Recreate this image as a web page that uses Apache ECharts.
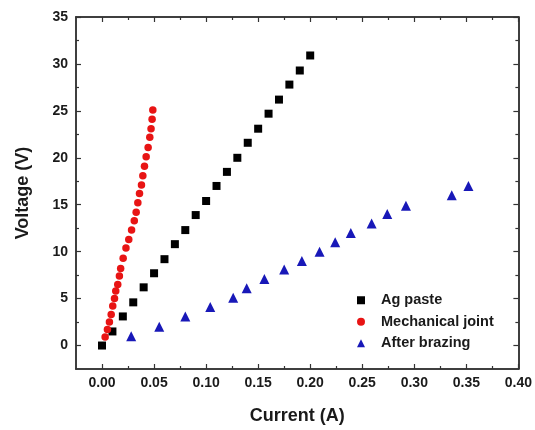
<!DOCTYPE html>
<html>
<head>
<meta charset="utf-8">
<script src="https://cdn.jsdelivr.net/npm/echarts@6/dist/echarts.min.js"></script>
<style>
html,body{margin:0;padding:0;background:#fff;}
#chart{width:535px;height:430px;}
</style>
</head>
<body>
<div id="chart"></div>
<script>
// ---- data ----
var agCurrent = [0.00,0.01,0.02,0.03,0.04,0.05,0.06,0.07,0.08,0.09,0.10,0.11,0.12,0.13,0.14,0.15,0.16,0.17,0.18,0.19,0.20];
var agVoltage = [0.0,1.5,3.1,4.6,6.2,7.7,9.2,10.8,12.3,13.9,15.4,17.0,18.5,20.0,21.6,23.1,24.7,26.2,27.8,29.3,30.9];

var mjCurrent = [0.0030,0.0052,0.0071,0.0088,0.0103,0.0120,0.0132,0.0151,0.0167,0.0179,0.0203,0.0230,0.0257,0.0284,0.0310,0.0328,0.0344,0.0360,0.0379,0.0392,0.0408,0.0424,0.0443,0.0459,0.0471,0.0481,0.0488];
var mjVoltage = [0.9,1.7,2.5,3.3,4.2,5.0,5.8,6.5,7.4,8.2,9.3,10.4,11.3,12.3,13.3,14.2,15.2,16.2,17.1,18.1,19.1,20.1,21.1,22.2,23.1,24.1,25.1];

var abCurrent = [0.028,0.055,0.080,0.104,0.126,0.139,0.156,0.175,0.192,0.209,0.224,0.239,0.259,0.274,0.292,0.336,0.352];
var abVoltage = [1.0,2.0,3.1,4.1,5.1,6.1,7.1,8.1,9.0,10.0,11.0,12.0,13.0,14.0,14.9,16.0,17.0];

var xMajorTicks = [0,0.05,0.10,0.15,0.20,0.25,0.30,0.35,0.40];
var xMinorTicks = [0.025,0.075,0.125,0.175,0.225,0.275,0.325,0.375];
var yMajorTicks = [0,5,10,15,20,25,30,35];
var yMinorTicks = [2.5,7.5,12.5,17.5,22.5,27.5,32.5];

var seriesNames = ['Ag paste','Mechanical joint','After brazing'];

// ---- chart ----
var FONT = '"Liberation Sans", Arial, Helvetica, sans-serif';
var TXT = '#1a1a1a';
var LINE = '#333';
function pairs(xs, ys){ return xs.map(function(x,i){ return [x, ys[i]]; }); }

function xAxisDef(pos, ticks, len, labels){
  return {
    type:'value', position:pos, min:-0.025, max:0.40,
    axisLine:{show:true, onZero:false, lineStyle:{color:LINE, width:1.5}},
    axisTick:{show:true, inside:true, length:len, customValues:ticks, lineStyle:{color:LINE, width:1.2}},
    axisLabel:{show:labels, customValues:ticks, margin:7, color:TXT, fontFamily:FONT, fontWeight:'bold', fontSize:14,
      formatter:function(v){ return v.toFixed(2); }},
    splitLine:{show:false},
    name: labels ? 'Current (A)' : '',
    nameLocation:'middle', nameGap:38,
    nameTextStyle:{color:TXT, fontFamily:FONT, fontWeight:'bold', fontSize:18}
  };
}
function yAxisDef(pos, ticks, len, labels){
  return {
    type:'value', position:pos, min:-2.5, max:35,
    axisLine:{show:true, onZero:false, lineStyle:{color:LINE, width:1.5}},
    axisTick:{show:true, inside:true, length:len, customValues:ticks, lineStyle:{color:LINE, width:1.2}},
    axisLabel:{show:labels, customValues:ticks, margin:8, color:TXT, fontFamily:FONT, fontWeight:'bold', fontSize:14},
    splitLine:{show:false},
    name: labels ? 'Voltage (V)' : '',
    nameLocation:'middle', nameGap:44,
    nameTextStyle:{color:TXT, fontFamily:FONT, fontWeight:'bold', fontSize:18}
  };
}

var chart = echarts.init(document.getElementById('chart'), null, {renderer:'canvas'});
chart.setOption({
  animation:false,
  backgroundColor:'#fff',
  grid:{left:76, right:14, top:17, bottom:59, containLabel:false},
  xAxis:[
    xAxisDef('bottom', xMajorTicks, 5, true),
    xAxisDef('bottom', xMinorTicks, 3, false),
    xAxisDef('top', xMajorTicks, 5, false),
    xAxisDef('top', xMinorTicks, 3, false)
  ],
  yAxis:[
    yAxisDef('left', yMajorTicks, 5, true),
    yAxisDef('left', yMinorTicks, 3, false),
    yAxisDef('right', yMajorTicks, 5, false),
    yAxisDef('right', yMinorTicks, 3, false)
  ],
  legend:{
    orient:'vertical', left:352, top:287, itemGap:5,
    itemWidth:8, itemHeight:8,
    textStyle:{color:TXT, fontFamily:FONT, fontWeight:'bold', fontSize:14.5, lineHeight:16.5, padding:[0,0,0,11]},
    data:[
      {name:seriesNames[0], icon:'rect', itemStyle:{opacity:1}},
      {name:seriesNames[1], icon:'circle', itemStyle:{opacity:1}},
      {name:seriesNames[2], icon:'triangle', itemStyle:{opacity:1}}
    ]
  },
  series:[
    {name:seriesNames[0], type:'scatter', xAxisIndex:0, yAxisIndex:0, symbol:'rect', symbolSize:8,
      itemStyle:{color:'#000', opacity:1}, data:pairs(agCurrent, agVoltage)},
    {name:seriesNames[1], type:'scatter', xAxisIndex:0, yAxisIndex:0, symbol:'circle', symbolSize:7.5,
      itemStyle:{color:'#e81414', opacity:1}, data:pairs(mjCurrent, mjVoltage)},
    {name:seriesNames[2], type:'scatter', xAxisIndex:0, yAxisIndex:0, symbol:'triangle', symbolSize:10,
      itemStyle:{color:'#1818b8', opacity:1}, data:pairs(abCurrent, abVoltage)}
  ]
});
</script>
</body>
</html>
